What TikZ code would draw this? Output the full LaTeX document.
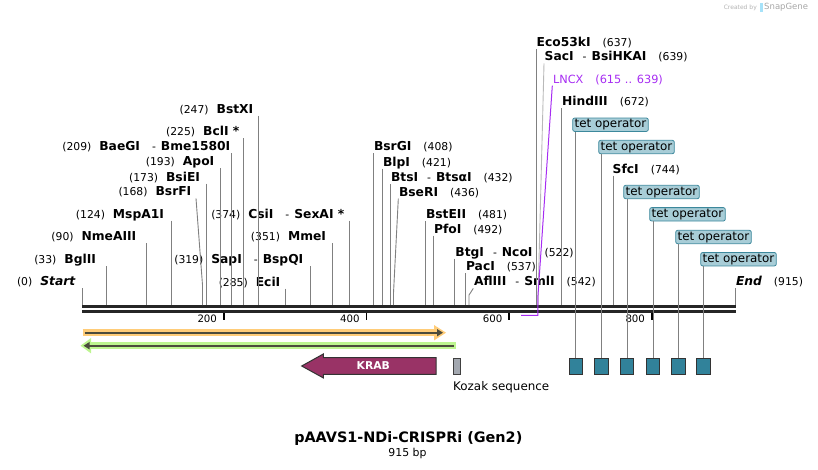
\documentclass[tikz,border=0pt]{standalone}
\usepackage{fontspec}
\setmainfont{DejaVu Sans}
\usepackage{xcolor}
\usepackage{tikz}
\usetikzlibrary{arrows.meta}
\definecolor{siteGray}{HTML}{808080}
\definecolor{lncxColor}{HTML}{A62CF2}
\definecolor{tetFill}{HTML}{A8CDD7}
\definecolor{tetEdge}{HTML}{3C889C}
\definecolor{tetBox}{HTML}{31829A}
\definecolor{krabColor}{HTML}{993366}
\definecolor{kozakColor}{HTML}{A3A8B0}
\definecolor{orfOrange}{HTML}{FFCC78}
\definecolor{orfGreen}{HTML}{BDF590}
\definecolor{arrowDark}{HTML}{4B4B3C}
\newcommand{\sitefont}{\fontsize{10.8}{13}\selectfont}
\newcommand{\featfont}{\fontsize{11.9}{14}\selectfont}
\newcommand{\nm}[1]{{\fontsize{12.3}{13}\selectfont\bfseries #1}}

\begin{document}
\begin{tikzpicture}[x=1pt,y=-1pt,
siteL/.style={anchor=base east,inner sep=0.5pt,text depth=2pt,font=\sitefont},
siteR/.style={anchor=base west,inner sep=0.5pt,text depth=2pt,font=\sitefont},
siteLine/.style={draw=siteGray,line width=0.9pt},
tetLabel/.style={anchor=west,draw=tetEdge,fill=tetFill,rounded corners=2pt,line width=0.8pt,
    inner xsep=2pt,inner ysep=1.2pt,text height=8.5pt,text depth=2.5pt,font=\featfont},
tetBox/.style={draw=black!80,fill=tetBox,line width=1pt,minimum width=13.5pt,minimum height=16pt,inner sep=0},
backbone/.style={line width=2.4pt,draw=black!85},
tick/.style={line width=1.6pt},
tickLabel/.style={anchor=east,font=\fontsize{10.2}{12}\selectfont}
]
\useasboundingbox (0,0) rectangle (818,469);

% backbone
\draw[backbone] (82,306.6) -- (736,306.6);
\draw[backbone] (82,311.6) -- (736,311.6);
\draw[tick] (223.8,312.5) -- (223.8,319.5);
\draw[tick] (366.5,312.5) -- (366.5,319.5);
\draw[tick] (509.2,312.5) -- (509.2,319.5);
\draw[tick] (651.8,312.5) -- (651.8,319.5);
\node[tickLabel] (t200) at (220.5,319) {200};
\node[tickLabel] (t400) at (363.2,319) {400};
\node[tickLabel] (t600) at (505.9,319) {600};
\node[tickLabel] (t800) at (648.5,319) {800};

% sites on the backbone
\coordinate (start-b) at (82.7,305);
\coordinate (bglii-b) at (106.2,305);
\coordinate (nmeaiii-b) at (146.9,305);
\coordinate (mspa1i-b) at (171.1,305);
\coordinate (bsrfi-b) at (202.5,305);
\coordinate (bsiei-b) at (206.0,305);
\coordinate (apoi-b) at (220.3,305);
\coordinate (baegi-b) at (231.7,305);
\coordinate (bcli-b) at (243.1,305);
\coordinate (bstxi-b) at (258.8,305);
\coordinate (ecii-b) at (285.8,305);
\coordinate (sapi-b) at (310.1,305);
\coordinate (mmei-b) at (332.9,305);
\coordinate (csii-b) at (349.3,305);
\coordinate (bsrgi-b) at (373.5,305);
\coordinate (blpi-b) at (382.6,305);
\coordinate (btsi-b) at (390.5,305);
\coordinate (bseri-b) at (393.5,305);
\coordinate (bsteii-b) at (425.5,305);
\coordinate (pfoi-b) at (433.4,305);
\coordinate (btgi-b) at (454.8,305);
\coordinate (paci-b) at (465.5,305);
\coordinate (afliii-b) at (469.0,305);
\coordinate (eco53ki-b) at (536.6,305);
\coordinate (saci-b) at (538.2,305);
\coordinate (hindiii-b) at (561.7,305);
\coordinate (sfci-b) at (613.0,305);
\coordinate (end-b) at (735.3,305);

% left-hand labels
\node[siteL] (start) at (76,285.7) {(0)\hspace{8pt}\nm{\itshape Start}};
\node[siteL] (bglii) at (96.7,263.5) {(33)\hspace{8pt}\nm{BglII}};
\node[siteL] (nmeaiii) at (137,240.7) {(90)\hspace{8pt}\nm{NmeAIII}};
\node[siteL] (mspa1i) at (164.7,218) {(124)\hspace{8pt}\nm{MspA1I}};
\node[siteL] (bsrfi) at (192,195.7) {(168)\hspace{8pt}\nm{BsrFI}};
\node[siteL] (bsiei) at (200.7,181) {(173)\hspace{8pt}\nm{BsiEI}};
\node[siteL] (apoi) at (215,165.5) {(193)\hspace{8pt}\nm{ApoI}};
\node[siteL] (baegi) at (231,150.7) {(209)\hspace{8pt}\nm{BaeGI}\hspace{12pt}-\hspace{5pt}\nm{Bme1580I}};
\node[siteL] (bcli) at (240,135.5) {(225)\hspace{8pt}\nm{BclI *}};
\node[siteL] (bstxi) at (254,113) {(247)\hspace{8pt}\nm{BstXI}};
\node[siteL] (ecii) at (281,286) {(285)\hspace{8pt}\nm{EciI}};
\node[siteL] (sapi) at (304,263.5) {(319)\hspace{8pt}\nm{SapI}\hspace{12pt}-\hspace{5pt}\nm{BspQI}};
\node[siteL] (mmei) at (326.7,240.7) {(351)\hspace{8pt}\nm{MmeI}};
\node[siteL] (csii) at (345,218) {(374)\hspace{8pt}\nm{CsiI}\hspace{12pt}-\hspace{5pt}\nm{SexAI *}};

% right-hand labels
\node[siteR] (bsrgi) at (373.3,150.7) {\nm{BsrGI}\hspace{12pt}(408)};
\node[siteR] (blpi) at (382.3,166) {\nm{BlpI}\hspace{12pt}(421)};
\node[siteR] (btsi) at (390.3,181.3) {\nm{BtsI}\hspace{9pt}-\hspace{5pt}\nm{BtsαI}\hspace{12pt}(432)};
\node[siteR] (bseri) at (398.3,196) {\nm{BseRI}\hspace{12pt}(436)};
\node[siteR] (bsteii) at (425.3,218.3) {\nm{BstEII}\hspace{12pt}(481)};
\node[siteR] (pfoi) at (433.3,233) {\nm{PfoI}\hspace{12pt}(492)};
\node[siteR] (btgi) at (454.7,256) {\nm{BtgI}\hspace{9pt}-\hspace{5pt}\nm{NcoI}\hspace{12pt}(522)};
\node[siteR] (paci) at (465.3,270.7) {\nm{PacI}\hspace{12pt}(537)};
\node[siteR] (afliii) at (473.3,285.7) {\nm{AflIII}\hspace{9pt}-\hspace{5pt}\nm{SmlI}\hspace{12pt}(542)};
\node[siteR] (eco53ki) at (536,46.3) {\nm{Eco53kI}\hspace{12pt}(637)};
\node[siteR] (saci) at (544,60.7) {\nm{SacI}\hspace{9pt}-\hspace{5pt}\nm{BsiHKAI}\hspace{12pt}(639)};
\node[siteR,text=lncxColor,font=\fontsize{11.3}{13}\selectfont] (lncx) at (552.3,83) {LNCX\hspace{12pt}(615 .. 639)};
\node[siteR] (hindiii) at (561.3,105.7) {\nm{HindIII}\hspace{12pt}(672)};
\node[siteR] (sfci) at (612,173) {\nm{SfcI}\hspace{12pt}(744)};
\node[siteR] (endLabel) at (735.3,285.7) {\nm{\itshape End}\hspace{12pt}(915)};

% leader lines
\foreach \s in {start,bglii,nmeaiii,mspa1i,bsiei,apoi,baegi,bcli,bstxi,ecii,sapi,mmei,csii,
    bsrgi,blpi,btsi,bsteii,pfoi,btgi,paci,eco53ki,hindiii,sfci}
  \draw[siteLine] (\s.south -| \s-b) -- (\s-b);
\draw[siteLine] (endLabel.south -| end-b) -- (end-b);
\draw[siteLine] ([xshift=4pt]bsrfi.south east) -- (202.5,285) -- (bsrfi-b);
\draw[siteLine] (bseri.south west) -- (393.5,293) -- (bseri-b);
\draw[siteLine] (afliii.south west) -- (469,295) -- (afliii-b);
\draw[siteLine,draw=siteGray!55] (saci.south west) -- (538.2,292) -- (saci-b);
\draw[lncxColor,line width=1pt] (lncx.south west) -- (537.8,298) -- (537.8,315.3) -- (521.1,315.3);

% tet operators
\node[tetBox] (f1) at (575.8,366.3) {};
\node[tetBox] (f2) at (601.5,366.3) {};
\node[tetBox] (f3) at (627.0,366.3) {};
\node[tetBox] (f4) at (653.0,366.3) {};
\node[tetBox] (f5) at (678.5,366.3) {};
\node[tetBox] (f6) at (703.6,366.3) {};
\node[tetLabel] (tet1) at (572.3,124.7) {tet operator};
\node[tetLabel] (tet2) at (598.3,147) {tet operator};
\node[tetLabel] (tet3) at (623.3,192) {tet operator};
\node[tetLabel] (tet4) at (649.3,214.3) {tet operator};
\node[tetLabel] (tet5) at (675.3,237) {tet operator};
\node[tetLabel] (tet6) at (700.3,259.2) {tet operator};
\foreach \i in {1,...,6}
  \draw[siteLine] (tet\i.south -| f\i.north) -- (f\i.north);

% features
\draw[orfOrange,line width=6.5pt] (82.7,332.7) -- (438,332.7);
\fill[orfOrange] (434,325) -- (446,332.7) -- (434,340.4) -- cycle;
\draw[arrowDark,line width=1.8pt,-{Triangle[length=6pt,width=7pt]}] (84.5,332.7) -- (443,332.7);
\draw[orfGreen,line width=6.5pt] (88,345.7) -- (455.5,345.7);
\fill[orfGreen] (91,338) -- (80.5,345.7) -- (91,353.4) -- cycle;
\draw[arrowDark,line width=1.8pt,-{Triangle[length=6pt,width=7pt]}] (453.5,345.7) -- (83.5,345.7);
\draw[fill=krabColor,draw=black!80,line width=1pt] (436,357.7) -- (323.3,357.7) -- (323.3,354)
    -- (301.7,366) -- (323.3,377.9) -- (323.3,374.3) -- (436,374.3) -- cycle;
\node[text=white,font=\sitefont\bfseries] (krab) at (373.3,366) {KRAB};
\node[draw=black!75,fill=kozakColor,line width=1pt,minimum width=7.5pt,minimum height=16pt,inner sep=0] (kozak) at (457,366.3) {};
\node[anchor=west,inner sep=0,font=\featfont] (kozakLabel) at (453,387.7) {Kozak sequence};

% title
\node[font=\fontsize{14.4}{17}\selectfont\bfseries] (title) at (408.3,438.5) {pAAVS1-NDi-CRISPRi (Gen2)};
\node[font=\fontsize{10.9}{12}\selectfont] (size) at (407.5,453.3) {915 bp};

% watermark
\node[anchor=east,inner sep=0,text=black!30,font=\fontsize{6}{7}\selectfont] (made) at (757,7.5) {Created by};
\fill[cyan!35] (759.5,2.5) rectangle (762.5,12);
\node[anchor=west,inner sep=0,text=black!35,font=\fontsize{8.5}{9}\selectfont] (snap) at (764,7.5) {SnapGene};
\end{tikzpicture}
\end{document}
